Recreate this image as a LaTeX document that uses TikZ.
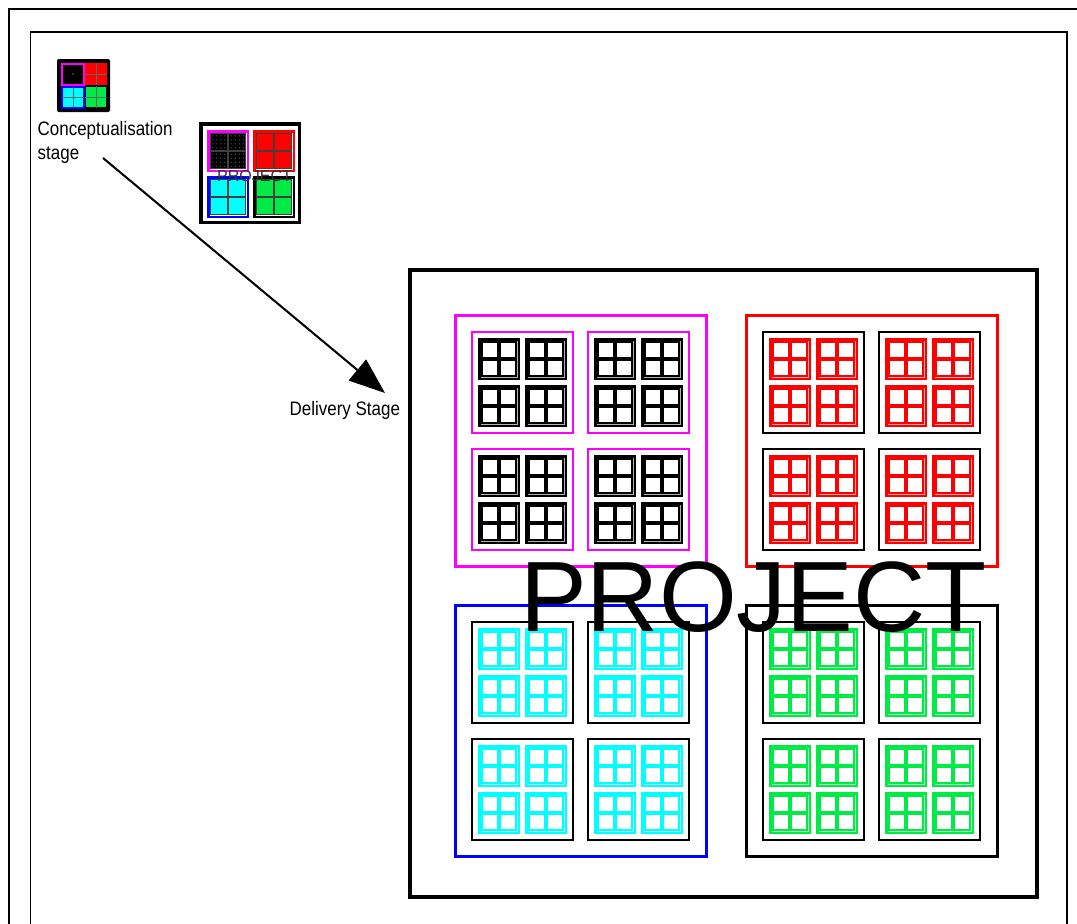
\documentclass[tikz,border=0pt]{standalone}
\usepackage{fontspec}
\newfontfamily\narrowsans[FakeStretch=0.87]{Liberation Sans}
\newfontfamily\arialfont{Liberation Sans}
\usetikzlibrary{arrows.meta}
\definecolor{pgreen}{RGB}{0,235,70}
\definecolor{pmag}{RGB}{255,0,255}
\definecolor{pcyan}{RGB}{0,255,255}
\definecolor{pblue}{RGB}{0,0,255}
\definecolor{pred}{RGB}{255,0,0}
\tikzset{
  pics/win/.style 2 args={code={
    \draw[#1, line width=2.6] (1.3,1.3) rectangle (40.7,40.7);
    \draw[#2, line width=0.8] (3,3) rectangle (39,39);
    \foreach \px/\py in {4.2/4.2, 22.2/4.2, 4.2/22.2, 22.2/22.2}
      \draw[#1, line width=1.6] (\px,\py) rectangle ++(15.6,15.6);
  }},
  lbl/.style={font=\narrowsans\fontsize{19.5}{24}\selectfont, inner sep=0pt},
}
\begin{document}
\begin{tikzpicture}[x=1pt,y=-1pt]
\useasboundingbox (0,0) rectangle (1077,924);
\clip (0,0) rectangle (1077,924);
\fill[white] (0,0) rectangle (1077,924);
% frames
\draw[line width=2.8] (9,930) -- (9,9) -- (1085,9);
\draw[line width=1.8] (30.5,930) -- (30.5,32) -- (1067,32) -- (1067,930);
% small icon
\fill[black, rounded corners=2] (57,59) rectangle (110,112);
\filldraw[fill=black, draw=pmag, line width=2] (62,63.5) rectangle (83.5,85);
\fill[pred] (85,62.5) rectangle (107,85);
\filldraw[fill=pcyan, draw=pblue, line width=2] (62,87) rectangle (83.5,108);
\filldraw[fill=pgreen, draw=black, line width=1.5] (85.5,86.5) rectangle (107,108);
\draw[black!60, line width=0.5] (96,63) -- (96,85) (85,74) -- (107,74)
  (96,86) -- (96,108) (85,97) -- (107,97) (73,87) -- (73,108) (62,97.5) -- (84,97.5);
\fill[pmag] (73,74) circle (0.8);
% medium icon
\draw[line width=3.5] (200.75,123.75) rectangle (299.25,222.25);
\foreach \qx/\qy/\bc/\fc in {207/130/pmag/black, 253/130/pred/pred, 207/176/pblue/pcyan, 253/176/black/pgreen}{
  \draw[\bc, line width=2.5] (\qx+1.25,\qy+1.25) rectangle (\qx+40.75,\qy+40.75);
  \foreach \a/\b in {3.3/3.3, 21.7/3.3, 3.3/21.7, 21.7/21.7}
    \filldraw[fill=\fc, draw=black!75, line width=0.7] (\qx+\a,\qy+\b) rectangle ++(17,17);
}
\foreach \a/\b in {210.3/133.3, 228.7/133.3, 210.3/151.7, 228.7/151.7}
  \foreach \i in {0,...,3}
    \foreach \j in {0,...,3}
      \fill[gray] (\a+2.5+\i*4,\b+2.5+\j*4) circle (0.55);
\node[font=\arialfont\fontsize{16}{16}\selectfont, text=black!80, anchor=base, inner sep=0pt] (smalltitle) at (254.5,181) {PROJECT};
% labels and arrow
\node[lbl, anchor=north west, align=left] (concept) at (37.5,121.5) {Conceptualisation\\stage};
\node[lbl, anchor=base west] (delivery) at (289.5,415) {Delivery Stage};
\coordinate (arrowstart) at (103,158);
\coordinate (arrowend) at (385,393);
\draw[line width=2, -{Triangle[length=36,width=27]}] (arrowstart) -- (arrowend);
% big diagram
\draw[line width=3.5] (410,270) rectangle (1037,897);
\foreach \qx/\qy/\qc/\sc/\wc/\wl in {455/315/pmag/pmag/black/gray!60, 746/315/pred/black/pred/pred!35, 455/605/pblue/black/pcyan/pcyan!35, 746/605/black/black/pgreen/pgreen!35}{
  \draw[\qc, line width=3] (\qx,\qy) rectangle ++(251,251);
  \foreach \sx/\sy in {17/17, 133/17, 17/134, 133/134}{
    \draw[\sc, line width=2.4] (\qx+\sx,\qy+\sy) rectangle ++(101,101);
    \foreach \wx/\wy in {6/6, 53/6, 6/53, 53/53}
      \pic at (\qx+\sx+\wx,\qy+\sy+\wy) {win={\wc}{\wl}};
  }
}
\node[font=\arialfont\fontsize{100}{100}\selectfont, anchor=base, inner sep=0pt] (bigtitle) at (753.5,631) {PROJECT};
\end{tikzpicture}
\end{document}
